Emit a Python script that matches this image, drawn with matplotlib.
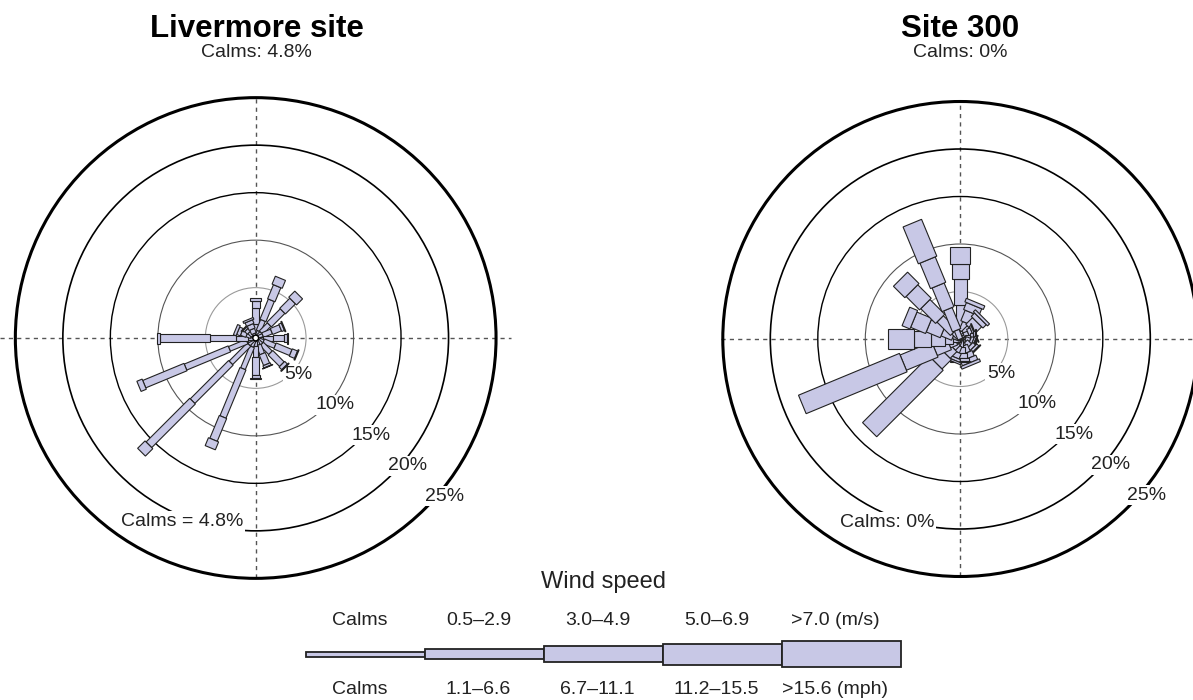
import matplotlib
matplotlib.use('Agg')
import matplotlib.pyplot as plt
from matplotlib.patches import Polygon, Circle, Rectangle
import numpy as np

plt.rcParams['font.family'] = ['Liberation Sans', 'DejaVu Sans']

# ---------------- data ----------------
directions = ['N', 'NNE', 'NE', 'ENE', 'E', 'ESE', 'SE', 'SSE',
              'S', 'SSW', 'SW', 'WSW', 'W', 'WNW', 'NW', 'NNW']
speed_ms = ['Calms', '0.5–2.9', '3.0–4.9', '5.0–6.9', '>7.0 (m/s)']
speed_mph = ['Calms', '1.1–6.6', '6.7–11.1', '11.2–15.5', '>15.6 (mph)']
ring_pcts = [5, 10, 15, 20, 25]

# Livermore site: percent of time per direction and speed class
liv_calm = 4.8
liv_c1 = [0.3, 0.5, 0.5, 0.5, 0.5, 0.6, 0.6, 0.5, 0.5, 0.7, 0.7, 0.7, 0.5, 0.2, 0.1, 0.2]
liv_c2 = [0.9, 1.2, 1.2, 1.0, 1.0, 1.3, 1.3, 1.0, 1.2, 2.5, 2.7, 2.0, 1.3, 0.5, 0.5, 0.5]
liv_c3 = [1.7, 2.3, 2.0, 1.0, 1.2, 1.8, 1.7, 1.2, 1.9, 5.5, 5.7, 5.0, 2.7, 0.6, 0.4, 0.5]
liv_c4 = [0.7, 1.6, 1.5, 0.3, 0.3, 0.6, 0.4, 0.25, 0.3, 2.6, 6.5, 4.7, 5.3, 0.4, 0.2, 0.4]
liv_c5 = [0.3, 0.9, 0.9, 0.1, 0.1, 0.1, 0.1, 0.05, 0.1, 0.9, 1.1, 0.6, 0.3, 0.3, 0.1, 0.2]

# Site 300
s300_calm = 0.0
s300_c1 = [1.2, 0.8, 0.7, 0.5, 0.5, 0.5, 0.6, 0.8, 0.8, 0.7, 0.5, 0.5, 0.8, 0.8, 1.0, 1.0]
s300_c2 = [2.4, 1.0, 0.8, 0.5, 0.5, 0.5, 0.6, 0.8, 0.7, 0.7, 0.7, 0.8, 0.8, 1.2, 2.0, 2.4]
s300_c3 = [2.7, 1.2, 1.0, 0.4, 0.3, 0.3, 0.4, 0.6, 0.5, 0.6, 1.0, 1.6, 1.5, 1.6, 2.2, 2.7]
s300_c4 = [1.6, 0.8, 0.5, 0.2, 0.2, 0.2, 0.3, 0.5, 0.3, 0.3, 1.4, 3.6, 1.8, 1.7, 2.0, 2.9]
s300_c5 = [1.8, 0.4, 0.3, 0.1, 0.1, 0.1, 0.1, 0.3, 0.1, 0.2, 9.9, 11.5, 2.7, 0.9, 1.7, 4.2]

# ---------------- style ----------------
W, H, DPI = 1193, 700, 100
PX_PER_PCT = 9.5
HALF_PX = 256
FILL = '#c8c8e6'
EDGE = '#222222'
liv_widths_px = [3.0, 5.0, 6.5, 8.0, 11.0]
s300_widths_px = [5.0, 9.0, 13.0, 16.5, 20.0]
ring_styles = [('#9a9a9a', 0.8), ('#555555', 0.8), ('black', 1.0), ('black', 1.2), ('black', 2.2)]

fig = plt.figure(figsize=(W / DPI, H / DPI), dpi=DPI)


def make_axes(cx, cy):
    ax = fig.add_axes([(cx - HALF_PX) / W, (H - cy - HALF_PX) / H, 2 * HALF_PX / W, 2 * HALF_PX / H])
    L = HALF_PX / PX_PER_PCT
    ax.set_xlim(-L, L)
    ax.set_ylim(-L, L)
    ax.set_aspect('equal')
    ax.axis('off')
    return ax


def draw_rose(ax, classes, offset, widths_px, calm_text, hx):
    rmax = offset + ring_pcts[-1]
    ax.plot([-hx, hx], [0, 0], ls=(0, (3, 3)), color='#555555', lw=1.0, zorder=1, clip_on=False)
    ax.plot([0, 0], [-rmax, rmax], ls=(0, (3, 3)), color='#555555', lw=1.0, zorder=1)
    for pct, (col, lw) in zip(ring_pcts, ring_styles):
        r = offset + pct
        ax.add_patch(Circle((0, 0), r, fill=False, ec=col, lw=lw, zorder=1.5))
        a = np.deg2rad(-40)
        ax.text((r + 0.6) * np.cos(a), (r + 0.6) * np.sin(a), f'{pct}%',
                ha='center', va='center', fontsize=14, color='#222222', zorder=2,
                bbox=dict(boxstyle='square,pad=0.08', fc='white', ec='none'))
    ax.text(-7.74, -19.3, calm_text, ha='center', va='center', fontsize=14, color='#222222',
            zorder=2, bbox=dict(boxstyle='square,pad=0.1', fc='white', ec='none'))
    for i in range(len(directions)):
        th = np.deg2rad(i * 360.0 / len(directions))
        ux, uy = np.sin(th), np.cos(th)
        vx, vy = np.cos(th), -np.sin(th)
        r0 = offset
        for k, vals in enumerate(classes):
            r1 = r0 + vals[i]
            hw = widths_px[k] / 2 / PX_PER_PCT
            pts = [(r0 * ux + hw * vx, r0 * uy + hw * vy),
                   (r1 * ux + hw * vx, r1 * uy + hw * vy),
                   (r1 * ux - hw * vx, r1 * uy - hw * vy),
                   (r0 * ux - hw * vx, r0 * uy - hw * vy)]
            ax.add_patch(Polygon(pts, closed=True, fc=FILL, ec=EDGE, lw=0.8, zorder=3))
            r0 = r1
    if offset > 0:
        ax.add_patch(Circle((0, 0), offset, fc='white', ec='black', lw=1.0, zorder=4))


ax1 = make_axes(255.7, 338)
draw_rose(ax1, [liv_c1, liv_c2, liv_c3, liv_c4, liv_c5], 0.3, liv_widths_px,
          f'Calms = {liv_calm}%', 26.9)
ax2 = make_axes(960.3, 339)
draw_rose(ax2, [s300_c1, s300_c2, s300_c3, s300_c4, s300_c5], 0.0, s300_widths_px,
          f'Calms: {s300_calm:g}%', 25.2)

# titles
fig.text(256.7 / W, 1 - 37 / H, 'Livermore site', ha='center', va='baseline', fontsize=22.5, fontweight='bold')
fig.text(256.7 / W, 1 - 57 / H, f'Calms: {liv_calm}%', ha='center', va='baseline', fontsize=14, color='#222222')
fig.text(960.3 / W, 1 - 37 / H, 'Site 300', ha='center', va='baseline', fontsize=22.5, fontweight='bold')
fig.text(960.3 / W, 1 - 57 / H, f'Calms: {s300_calm:g}%', ha='center', va='baseline', fontsize=14, color='#222222')

# legend
lax = fig.add_axes([0, 0, 1, 1])
lax.set_xlim(0, W)
lax.set_ylim(H, 0)
lax.axis('off')
seg_x0, seg_len, bar_y = 306, 119, 654
seg_heights = [5, 10.5, 16, 21, 26]
for i in range(len(speed_ms)):
    x0 = seg_x0 + i * seg_len
    h = seg_heights[i]
    lax.add_patch(Rectangle((x0, bar_y - h / 2), seg_len, h, fc=FILL, ec=EDGE, lw=1.3, zorder=3))
    cx = x0 + seg_len / 2 - 6
    lax.text(cx, 625, speed_ms[i], ha='center', va='baseline', fontsize=14, color='#222222')
    lax.text(cx, 694, speed_mph[i], ha='center', va='baseline', fontsize=14, color='#222222')
lax.text(seg_x0 + 2.5 * seg_len, 588, 'Wind speed', ha='center', va='baseline', fontsize=17, color='#222222')

fig.savefig('out.png', dpi=DPI)
